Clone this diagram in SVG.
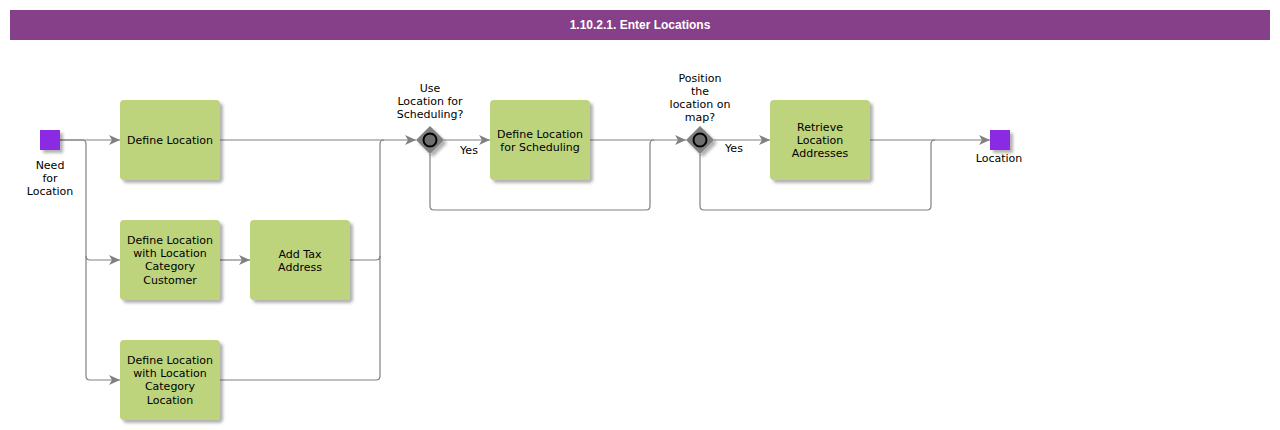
<svg xmlns="http://www.w3.org/2000/svg" width="1280" height="430" viewBox="0 0 1280 430">
<style>
.t{font-family:"DejaVu Sans",Verdana,sans-serif;font-size:11px;fill:#000;text-anchor:middle}
.title{font-family:"Liberation Sans",Arial,sans-serif;font-size:12px;font-weight:bold;fill:#fff;text-anchor:middle}
.task{fill:#BDD37B;filter:url(#sh)}
.ev{fill:#8A2BE2;filter:url(#sh)}
.c{fill:none;stroke:#808080;stroke-width:1.2}
.a{marker-end:url(#arr)}
</style>
<defs>
<filter id="sh" x="-20%" y="-20%" width="150%" height="150%">
<feDropShadow dx="3" dy="3" stdDeviation="1.5" flood-color="#000" flood-opacity="0.3"/>
</filter>
<marker id="arr" markerUnits="userSpaceOnUse" markerWidth="12" markerHeight="10" refX="11" refY="5" orient="auto">
<path d="M0,0 L11,5 L0,10 L3,5 Z" fill="#808080"/>
</marker>
</defs>
<rect width="1280" height="430" fill="#fff"/>
<g id="header">
<rect x="10" y="10" width="1260" height="30" fill="#86408A"/>
<text class="title" x="640" y="29">1.10.2.1. Enter Locations</text>
</g>
<g id="connectors">
<path class="c a" d="M60,140 H120"/>
<path class="c a" d="M60,140 H82 Q86,140 86,144 V256 Q86,260 90,260 H120"/>
<path class="c a" d="M86,256 V376 Q86,380 90,380 H120"/>
<path class="c a" d="M220,260 H250"/>
<path class="c a" d="M220,140 H416"/>
<path class="c" d="M350,260 H376 Q380,260 380,256 V144 Q380,140 384,140"/>
<path class="c" d="M220,380 H376 Q380,380 380,376 V256"/>
<path class="c a" d="M444,140 H490"/>
<path class="c a" d="M590,140 H686"/>
<path class="c" d="M430,154 V206 Q430,210 434,210 H646 Q650,210 650,206 V144 Q650,140 654,140"/>
<path class="c a" d="M714,140 H770"/>
<path class="c a" d="M870,140 H990"/>
<path class="c" d="M700,154 V206 Q700,210 704,210 H927 Q931,210 931,206 V144 Q931,140 935,140"/>
<text class="t" x="469" y="154">Yes</text>
<text class="t" x="734" y="152">Yes</text>
</g>
<g id="start">
<rect class="ev" x="40" y="130" width="20" height="20"/>
<text class="t" x="50" y="169">Need</text>
<text class="t" x="50" y="182">for</text>
<text class="t" x="50" y="195">Location</text>
</g>
<g id="defineLocation">
<rect class="task" x="120" y="100" width="100" height="80" rx="4"/>
<text class="t" x="170" y="144">Define Location</text>
</g>
<g id="defineLocationCustomer">
<rect class="task" x="120" y="220" width="100" height="80" rx="4"/>
<text class="t" x="170" y="244">Define Location</text>
<text class="t" x="170" y="257">with Location</text>
<text class="t" x="170" y="270">Category</text>
<text class="t" x="170" y="284">Customer</text>
</g>
<g id="addTaxAddress">
<rect class="task" x="250" y="220" width="100" height="80" rx="4"/>
<text class="t" x="300" y="258">Add Tax</text>
<text class="t" x="300" y="271">Address</text>
</g>
<g id="defineLocationLocation">
<rect class="task" x="120" y="340" width="100" height="80" rx="4"/>
<text class="t" x="170" y="364">Define Location</text>
<text class="t" x="170" y="377">with Location</text>
<text class="t" x="170" y="390">Category</text>
<text class="t" x="170" y="404">Location</text>
</g>
<g id="gateway1">
<path d="M430,126 L444,140 L430,154 L416,140 Z" fill="#808080" filter="url(#sh)"/>
<circle cx="430" cy="140" r="6.5" fill="#6e6e6e" stroke="#000" stroke-width="2"/>
<text class="t" x="430" y="92">Use</text>
<text class="t" x="430" y="105">Location for</text>
<text class="t" x="430" y="118">Scheduling?</text>
</g>
<g id="defineLocationScheduling">
<rect class="task" x="490" y="100" width="100" height="80" rx="4"/>
<text class="t" x="540" y="138">Define Location</text>
<text class="t" x="540" y="151">for Scheduling</text>
</g>
<g id="gateway2">
<path d="M700,126 L714,140 L700,154 L686,140 Z" fill="#808080" filter="url(#sh)"/>
<circle cx="700" cy="140" r="6.5" fill="#6e6e6e" stroke="#000" stroke-width="2"/>
<text class="t" x="700" y="82">Position</text>
<text class="t" x="700" y="95">the</text>
<text class="t" x="700" y="108">location on</text>
<text class="t" x="700" y="121">map?</text>
</g>
<g id="retrieveAddresses">
<rect class="task" x="770" y="100" width="100" height="80" rx="4"/>
<text class="t" x="820" y="131">Retrieve</text>
<text class="t" x="820" y="144">Location</text>
<text class="t" x="820" y="157">Addresses</text>
</g>
<g id="end">
<rect class="ev" x="990" y="130" width="20" height="20"/>
<text class="t" x="999" y="162">Location</text>
</g>
</svg>
